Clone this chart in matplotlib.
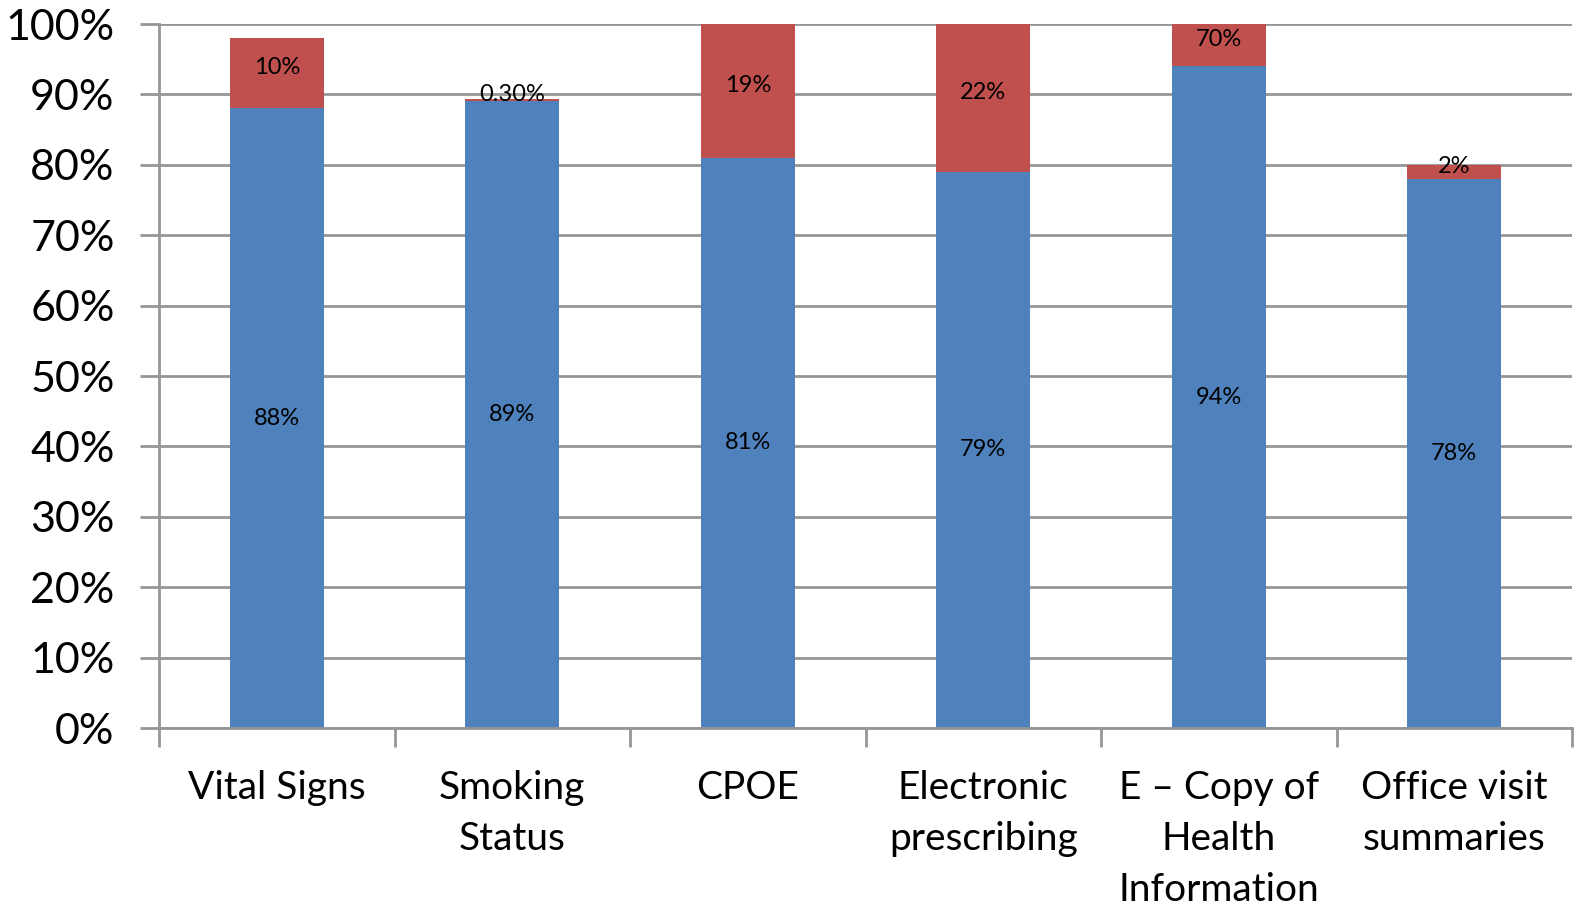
import matplotlib
matplotlib.use("Agg")
import matplotlib.pyplot as plt
import numpy as np

categories = ["Vital Signs", "Smoking\nStatus", "CPOE", "Electronic\nprescribing",
              "E \u2013 Copy of\nHealth\nInformation", "Office visit\nsummaries"]
blue_values = [88, 89, 81, 79, 94, 78]
red_values = [10, 0.3, 19, 22, 70, 2]
blue_labels = ["88%", "89%", "81%", "79%", "94%", "78%"]
red_labels = ["10%", "0.30%", "19%", "22%", "70%", "2%"]
yticks = [0, 10, 20, 30, 40, 50, 60, 70, 80, 90, 100]
ytick_labels = [f"{v}%" for v in yticks]

BLUE = "#4F81BD"
RED = "#C0504D"
GRID = "#969696"
FONT = ["Lato", "DejaVu Sans"]

fig = plt.figure(figsize=(15.92, 9.17), dpi=100)
ax = fig.add_axes([159 / 1592, 1 - 728 / 917, (1572 - 159) / 1592, (728 - 24) / 917])

x = np.arange(len(categories))
ax.bar(x, blue_values, width=0.4, color=BLUE, zorder=2)
ax.bar(x, red_values, width=0.4, bottom=blue_values, color=RED, zorder=2)

ax.set_xlim(-0.5, len(categories) - 0.5)
ax.set_ylim(0, 100)

for i in range(len(categories)):
    b = blue_values[i]
    top = min(b + red_values[i], 100)
    ax.text(x[i], b / 2, blue_labels[i], ha="center", va="center",
            fontsize=17, family=FONT, color="black", zorder=3)
    ax.text(x[i], (b + top) / 2 + 0.8, red_labels[i], ha="center", va="center",
            fontsize=17, family=FONT, color="black", zorder=3)

ax.set_yticks(yticks)
ax.set_yticklabels(ytick_labels, family=FONT, fontsize=31)
ax.yaxis.grid(True, color=GRID, linewidth=2, zorder=0)
ax.set_axisbelow(True)

ax.set_xticks(x)
ax.set_xticklabels(categories, family=FONT, fontsize=28, linespacing=1.52)
ax.set_xticks(np.arange(len(categories) + 1) - 0.5, minor=True)
ax.tick_params(axis="x", which="major", length=0, pad=30)
ax.tick_params(axis="x", which="minor", length=14, width=2, color=GRID, direction="out")
ax.tick_params(axis="y", length=14, width=2, color=GRID, direction="out", pad=18)

for s in ["top", "right"]:
    ax.spines[s].set_visible(False)
for s in ["left", "bottom"]:
    ax.spines[s].set_color(GRID)
    ax.spines[s].set_linewidth(2)

fig.savefig("out.png", dpi=100)
